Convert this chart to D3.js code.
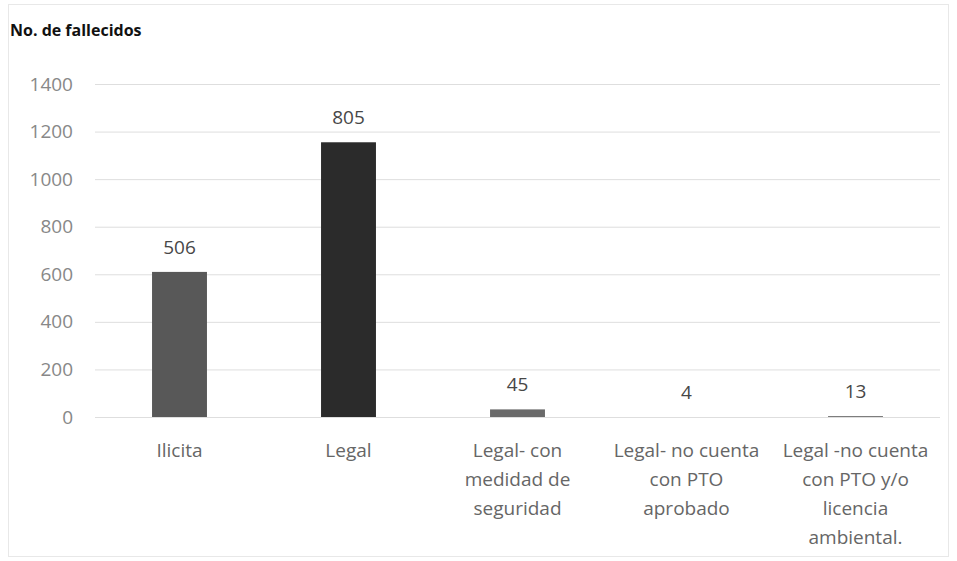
<!DOCTYPE html>
<html><head><meta charset="utf-8">
<script src="https://cdn.jsdelivr.net/npm/d3@7"></script>
<style>body{margin:0;background:#fff}svg{display:block}</style>
</head><body>
<svg id="c" width="957" height="561"></svg>
<script>
const categories = [
  ["Ilicita"],
  ["Legal"],
  ["Legal- con", "medidad de", "seguridad"],
  ["Legal- no cuenta", "con PTO", "aprobado"],
  ["Legal -no cuenta", "con PTO y/o", "licencia", "ambiental."]
];
const barValues = [610, 1155, 32, 0, 4];
const dataLabels = ["506", "805", "45", "4", "13"];
const barColors = ["#585858", "#2b2b2b", "#6a6a6a", "#6a6a6a", "#777777"];
const yTicks = [0, 200, 400, 600, 800, 1000, 1200, 1400];
const yTitle = "No. de fallecidos";

const svg = d3.select("#c");
const font = "Open Sans, sans-serif";
const margin = {left: 95, right: 17, top: 84, bottom: 144};
const W = 957, H = 561;

svg.append("rect").attr("x", 8.5).attr("y", 4.5).attr("width", 940).attr("height", 552)
  .attr("fill", "none").attr("stroke", "#e8e8e8");

const x = d3.scaleBand().domain(d3.range(categories.length))
  .range([margin.left, W - margin.right]).paddingInner(0.675).paddingOuter(0.3375);
const y = d3.scaleLinear().domain([0, 1400]).range([H - margin.bottom, margin.top]);

const grid = svg.append("g").attr("transform", `translate(${margin.left},0)`)
  .call(d3.axisLeft(y).tickValues(yTicks).tickSize(-(W - margin.left - margin.right)).tickFormat(d3.format("d")));
grid.select(".domain").remove();
grid.selectAll(".tick line").attr("stroke", "#dedede");
grid.selectAll(".tick text").attr("x", -22).attr("fill", "#888")
  .style("font-family", font).style("font-size", "19px");

svg.append("text").attr("x", 10).attr("y", 36).text(yTitle)
  .attr("font-family", font).attr("font-size", "16px").attr("font-weight", "bold").attr("fill", "#111");

svg.selectAll(".bar").data(barValues).enter().append("rect")
  .attr("x", (d, i) => x(i)).attr("width", x.bandwidth())
  .attr("y", d => y(d)).attr("height", d => y(0) - y(d))
  .attr("fill", (d, i) => barColors[i]);

svg.selectAll(".lbl").data(barValues).enter().append("text")
  .attr("x", (d, i) => x(i) + x.bandwidth() / 2).attr("y", d => y(d) - 18)
  .attr("text-anchor", "middle").attr("font-family", font).attr("font-size", "19px").attr("fill", "#474747")
  .text((d, i) => dataLabels[i]);

const cat = svg.selectAll(".cat").data(categories).enter().append("text")
  .attr("text-anchor", "middle").attr("font-family", font).attr("font-size", "19px").attr("fill", "#666");
cat.each(function(lines, i) {
  d3.select(this).selectAll("tspan").data(lines).enter().append("tspan")
    .attr("x", x(i) + x.bandwidth() / 2).attr("y", (d, j) => y(0) + 40 + j * 29).text(d => d);
});
</script>
</body></html>
